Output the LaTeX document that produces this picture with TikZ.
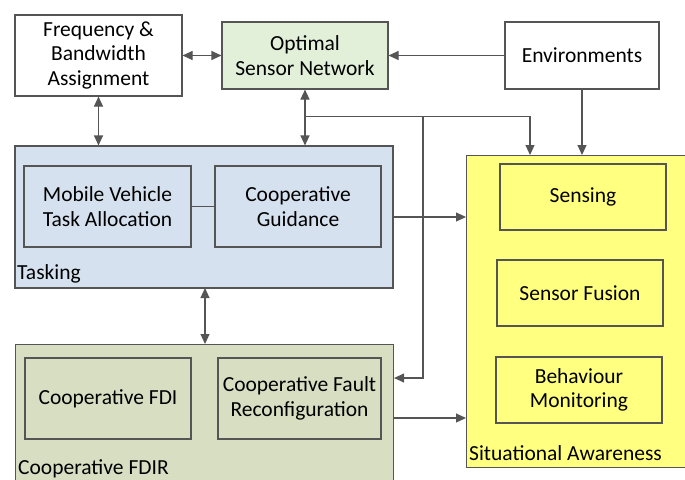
\documentclass[tikz,border=0pt]{standalone}
\usepackage{fontspec}
\setmainfont{Carlito}
\usetikzlibrary{arrows.meta}
\definecolor{lc}{HTML}{555555}
\definecolor{osnfill}{HTML}{E2EFD9}
\definecolor{taskfill}{HTML}{D5E1EE}
\definecolor{fdirfill}{HTML}{D8DEC2}
\definecolor{safill}{HTML}{FFFF80}
\tikzset{
  box/.style={draw=lc, line width=1.1pt, rectangle, inner sep=0pt, align=center,
    font=\fontsize{21.5}{24.5}\selectfont},
  conn/.style={draw=lc, line width=1.1pt},
  arr/.style={conn, -{Triangle[length=10pt,width=9pt]}},
  darr/.style={conn, {Triangle[length=10pt,width=9pt]}-{Triangle[length=10pt,width=9pt]}},
  lbl/.style={anchor=base west, inner sep=0pt, font=\fontsize{21.5}{24}\selectfont}
}
\begin{document}
\begin{tikzpicture}[x=1pt,y=-1pt]
\useasboundingbox (0,0) rectangle (685,479);
\clip (0,0) rectangle (685,479);
% containers
\node[box, fill=taskfill, minimum width=378pt, minimum height=142pt] (task) at (204,217) {};
\node[box, fill=fdirfill, minimum width=378pt, minimum height=160pt, anchor=north west] (fdir) at (15,344) {};
\node[box, fill=safill, minimum width=230pt, minimum height=312pt, anchor=north west] (sa) at (466,155) {};
% top boxes
\node[box, fill=white, minimum width=167pt, minimum height=81pt] (freq) at (98.5,55.5) {Frequency \&\\Bandwidth\\Assignment};
\node[box, fill=osnfill, minimum width=166pt, minimum height=67pt] (osn) at (305,55.5) {Optimal\\Sensor Network};
\node[box, fill=white, minimum width=154pt, minimum height=67pt] (env) at (582,55.5) {Environments};
% inner boxes
\node[box, fill=taskfill, minimum width=167pt, minimum height=81pt] (mob) at (107.5,206.5) {Mobile Vehicle\\Task Allocation};
\node[box, fill=taskfill, minimum width=166pt, minimum height=81pt] (gui) at (298,206.5) {Cooperative\\Guidance};
\node[box, fill=fdirfill, minimum width=166pt, minimum height=81pt] (fdi) at (108,398.5) {Cooperative FDI};
\node[box, fill=fdirfill, minimum width=163pt, minimum height=81pt] (fcr) at (299.5,398.5) {Cooperative Fault\\Reconfiguration};
\node[box, fill=safill, minimum width=166pt, minimum height=66pt] (sens) at (583,197) {Sensing};
\node[box, fill=safill, minimum width=166pt, minimum height=66pt] (fus) at (580,293) {Sensor Fusion};
\node[box, fill=safill, minimum width=166pt, minimum height=66pt] (beh) at (579,390) {Behaviour\\Monitoring};
% labels
\node[lbl] (tlab) at (17,279) {Tasking};
\node[lbl] (flab) at (18,474) {Cooperative FDIR};
\node[lbl] (slab) at (469,460) {Situational Awareness};
% coordinates
\coordinate (j1) at (305,116.5);
\coordinate (j2) at (423,116.5);
\coordinate (c1) at (530,116.5);
\coordinate (c2) at (423,378);
\coordinate (t1) at (205,288);
\coordinate (f1) at (205,344);
\coordinate (r1) at (393,418);
\coordinate (r2) at (466,418);
% connectors
\draw[conn] (mob.east) -- (gui.west);
\draw[darr] (freq.east) -- (osn.west);
\draw[darr] (freq.south) -- (freq.south |- task.north);
\draw[darr] (osn.south) -- (osn.south |- task.north);
\draw[arr] (env.west) -- (osn.east);
\draw[arr] (env.south) -- (env.south |- sa.north);
\draw[arr] (j1) -- (c1) -- (c1 |- sa.north);
\draw[arr] (j2) -- (c2) -- (c2 -| fdir.east);
\draw[arr] (task.east) -- (task.east -| sa.west);
\draw[arr] (r1) -- (r2);
\draw[darr] (t1) -- (f1);
\end{tikzpicture}
\end{document}
